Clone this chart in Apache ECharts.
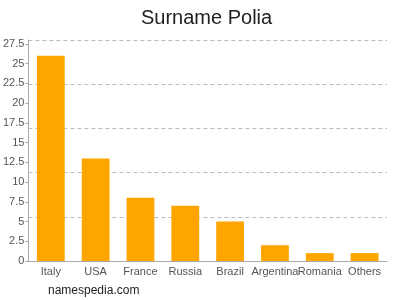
<!DOCTYPE html>
<html>
<head>
<meta charset="utf-8">
<script src="https://cdn.jsdelivr.net/npm/echarts@6/dist/echarts.min.js"></script>
<style>
  html, body { margin: 0; padding: 0; background: #fff; }
  #chart { width: 400px; height: 300px; }
</style>
</head>
<body>
<div id="chart"></div>
<script>
// data
var countries = ['Italy', 'USA', 'France', 'Russia', 'Brazil', 'Argentina', 'Romania', 'Others'];
var counts = [26, 13, 8, 7, 5, 2, 1, 1];

var chart = echarts.init(document.getElementById('chart'));

chart.setOption({
    animation: false,
    textStyle: { fontFamily: 'Liberation Sans, Arial, sans-serif' },
    title: {
        // centred over the plot area, not the page (title has 5px padding)
        text: 'Surname Polia',
        left: 136,
        top: 3,
        textStyle: { fontSize: 20, fontWeight: 'normal', color: '#222' }
    },
    graphic: [{
        type: 'text',
        left: 48,
        top: 285,
        style: { text: 'namespedia.com', fontSize: 12, fill: '#222', fontFamily: 'Liberation Sans, Arial, sans-serif' }
    }],
    grid: { left: 27, right: 13, top: 40, bottom: 39 },
    xAxis: {
        type: 'category',
        data: countries,
        axisLine: { lineStyle: { color: '#aaa' } },
        axisTick: { alignWithLabel: true, length: 3, lineStyle: { color: '#aaa' } },
        axisLabel: { interval: 0, color: '#555', fontSize: 11, margin: 5 }
    },
    yAxis: [{
        type: 'value',
        min: 0,
        max: 28,
        interval: 2.5,
        axisLine: { show: true, lineStyle: { color: '#aaa' } },
        axisTick: { show: true, length: 3, lineStyle: { color: '#aaa' } },
        axisLabel: { color: '#555', fontSize: 11, margin: 4, showMaxLabel: false },
        splitLine: { show: false }
    }, {
        // only for the dashed grid lines, which split the plot into 5 parts
        type: 'value',
        position: 'left',
        min: 0,
        max: 5,
        interval: 1,
        axisLine: { show: false },
        axisTick: { show: false },
        axisLabel: { show: false },
        splitLine: { show: true, lineStyle: { color: '#bbb', type: [4, 3] } }
    }],
    series: [{
        type: 'bar',
        yAxisIndex: 0,
        data: counts,
        barCategoryGap: '38%',
        itemStyle: { color: '#FFA500' }
    }]
});
</script>
</body>
</html>
